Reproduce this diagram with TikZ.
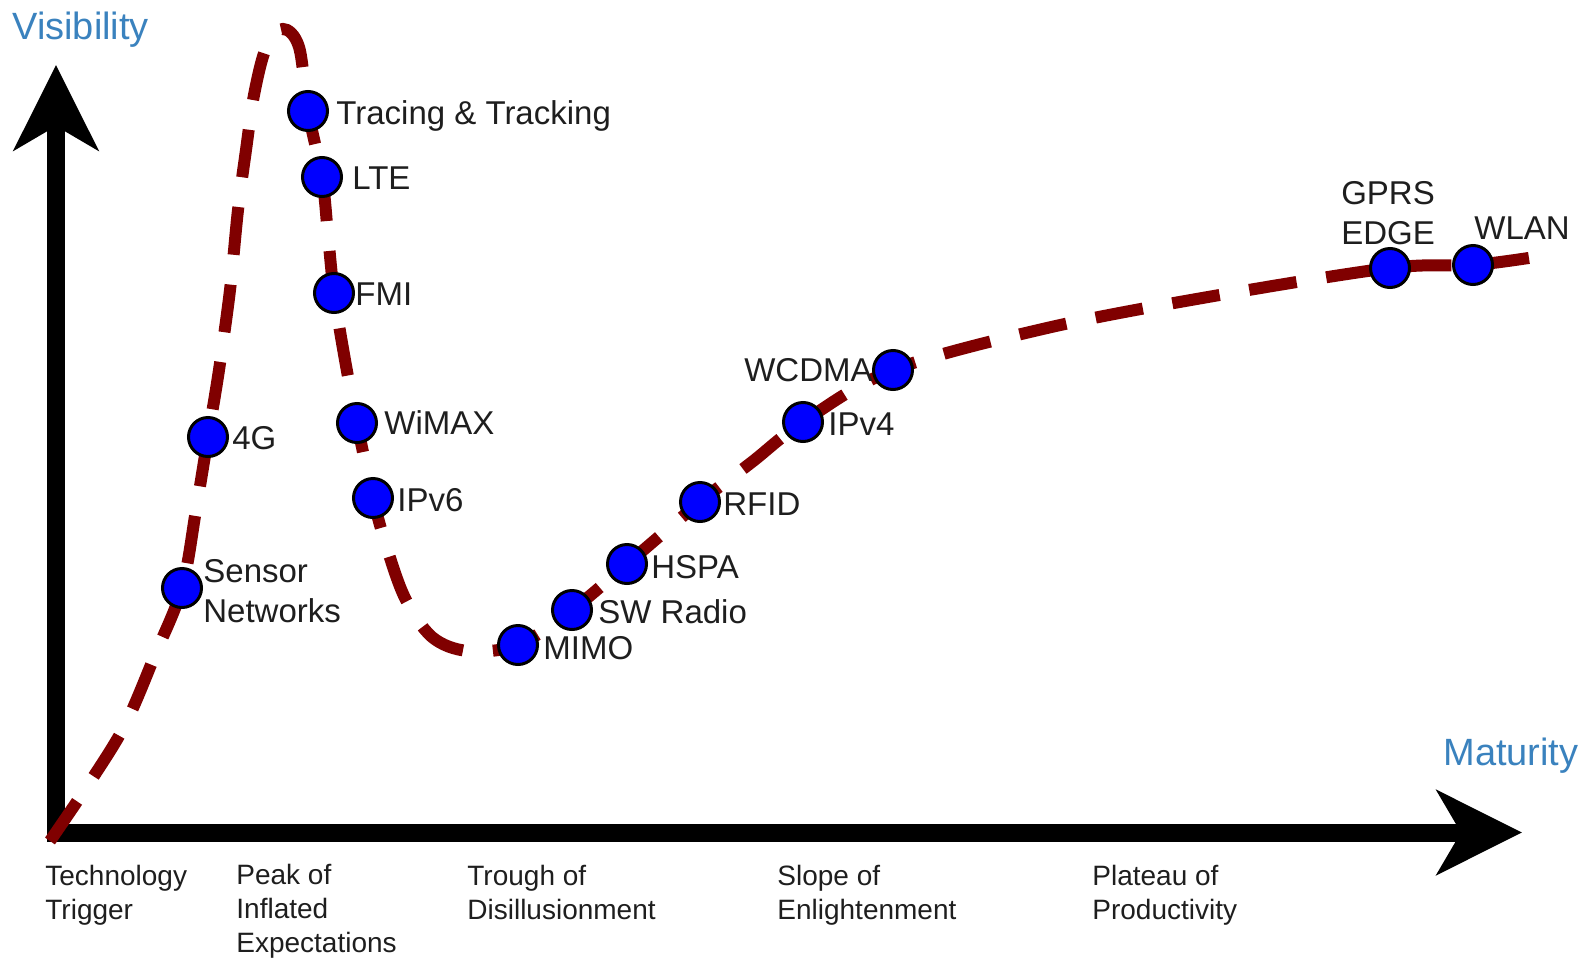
\documentclass[tikz,border=0pt]{standalone}
\usepackage{fontspec}
\setmainfont{Liberation Sans}
\usetikzlibrary{arrows.meta}
\pgfdeclarelayer{axes}
\pgfdeclarelayer{background}
\pgfsetlayers{axes,background,main}
\definecolor{curvered}{RGB}{128,0,0}
\definecolor{dotblue}{RGB}{0,0,255}
\definecolor{axisblue}{RGB}{58,130,190}
\definecolor{txt}{RGB}{30,30,30}
\begin{document}
\begin{tikzpicture}[x=0.5pt,y=-0.5pt,
  axisline/.style={line width=9pt, -{Stealth[length=42.5pt,width=42pt,inset=12pt]}},
  hype/.style={curvered, line width=6pt, dash pattern=on 24pt off 15pt},
  dot/.style={circle, draw=black, fill=dotblue, line width=1.5pt, minimum size=19.5pt, inner sep=0pt},
  lbl/.style={font=\fontsize{16.5}{20}\selectfont, text=txt, inner sep=0pt},
  phase/.style={font=\fontsize{14}{17}\selectfont, text=txt, inner sep=0pt, align=left, anchor=north west},
  axislabel/.style={font=\fontsize{19}{22}\selectfont, text=axisblue, inner sep=0pt}]
\useasboundingbox (0,0) rectangle (1586,959);

% axes
\coordinate (xstart) at (47,832.5);
\coordinate (xend) at (1522,832.5);
\coordinate (ystart) at (56,842);
\coordinate (yend) at (56,65);
\begin{pgfonlayer}{axes}
\draw[axisline] (ystart) -- (yend);
\draw[axisline] (xstart) -- (xend);
\end{pgfonlayer}
\node[axislabel, anchor=base west] (vis) at (12,39) {Visibility};
\node[axislabel, anchor=base west] (mat) at (1443,765) {Maturity};

% dots
\node[dot] (sensor) at (182,588) {};
\node[dot] (g4) at (208,437) {};
\node[dot] (tracing) at (308,111) {};
\node[dot] (lte) at (322,177) {};
\node[dot] (fmi) at (334,293) {};
\node[dot] (wimax) at (357,423) {};
\node[dot] (ipv6) at (373,498) {};
\node[dot] (mimo) at (518,645) {};
\node[dot] (swradio) at (572,610) {};
\node[dot] (hspa) at (627,564) {};
\node[dot] (rfid) at (700,502) {};
\node[dot] (ipv4) at (803,422) {};
\node[dot] (wcdma) at (893,370) {};
\node[dot] (gprs) at (1390,268) {};
\node[dot] (wlan) at (1473,265) {};

% curve helper points
\coordinate (k0) at (50,841);
\coordinate (k1) at (90,782);
\coordinate (k2) at (125,725);
\coordinate (k3) at (155,655);
\coordinate (k4) at (196,510);
\coordinate (k5) at (219,370);
\coordinate (k6) at (230,290);
\coordinate (k7) at (238,210);
\coordinate (k8) at (246,150);
\coordinate (k9) at (254,95);
\coordinate (k10) at (266,48);
\coordinate (k11) at (283,29);
\coordinate (k12) at (299,47);
\coordinate (k13) at (328,235);
\coordinate (k14) at (345,360);
\coordinate (k15) at (386,545);
\coordinate (k16) at (405,598);
\coordinate (k17) at (432,637);
\coordinate (k18) at (468,651);
\coordinate (k19) at (752,462);
\coordinate (k20) at (1047,328);
\coordinate (k21) at (1208,297);
\coordinate (k22) at (1535,257);

\begin{pgfonlayer}{background}
\draw[hype] plot[smooth, tension=0.55] coordinates {(k0) (k1) (k2) (k3) (sensor.center) (k4) (g4.center) (k5) (k6) (k7) (k8) (k9) (k10) (k11) (k12) (tracing.center) (lte.center) (k13) (fmi.center) (k14) (wimax.center) (ipv6.center) (k15) (k16) (k17) (k18) (mimo.center) (swradio.center) (hspa.center) (rfid.center) (k19) (ipv4.center) (wcdma.center) (k20) (k21) (gprs.center) (wlan.center) (k22)};
\end{pgfonlayer}

% labels
\node[lbl, anchor=base west] (tracingL) at (336,124) {Tracing \& Tracking};
\node[lbl, anchor=base west] (lteL) at (352,189) {LTE};
\node[lbl, anchor=base west] (fmiL) at (355,305) {FMI};
\node[lbl, anchor=base west] (g4L) at (232,449) {4G};
\node[lbl, anchor=base west] (wimaxL) at (384,434) {WiMAX};
\node[lbl, anchor=base west] (ipv6L) at (397,511) {IPv6};
\node[lbl, anchor=north west, align=left] (sensorL) at (203,559) {Sensor\\Networks};
\node[lbl, anchor=base west] (mimoL) at (543,659) {MIMO};
\node[lbl, anchor=base west] (swradioL) at (598,623) {SW Radio};
\node[lbl, anchor=base west] (hspaL) at (651,578) {HSPA};
\node[lbl, anchor=base west] (rfidL) at (723,515) {RFID};
\node[lbl, anchor=base west] (ipv4L) at (828,435) {IPv4};
\node[lbl, anchor=base east] (wcdmaL) at (873,381) {WCDMA};
\node[lbl, anchor=north, align=center] (gprsL) at (1388,181) {GPRS\\EDGE};
\node[lbl, anchor=base west] (wlanL) at (1474,239) {WLAN};

% phases
\node[phase] (trigger) at (45,865) {Technology\\Trigger};
\node[phase] (peak) at (236,864) {Peak of\\Inflated\\Expectations};
\node[phase] (trough) at (467,865) {Trough of\\Disillusionment};
\node[phase] (slope) at (777,865) {Slope of\\Enlightenment};
\node[phase] (plateau) at (1092,865) {Plateau of\\Productivity};
\end{tikzpicture}
\end{document}
